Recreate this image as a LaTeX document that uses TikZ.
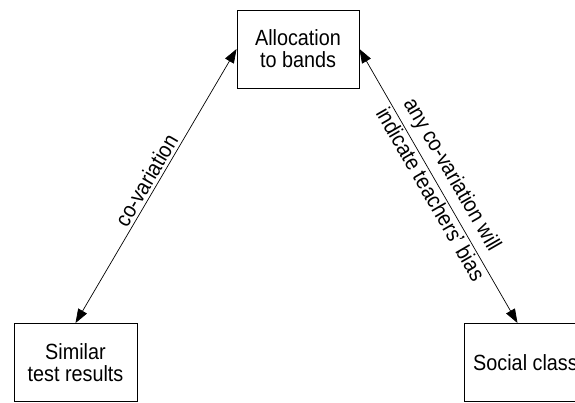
\documentclass[tikz,border=0pt]{standalone}
\usepackage{fontspec}
\setmainfont{Liberation Sans}[FakeStretch=0.9]
\usepackage{tikz}
\usetikzlibrary{arrows.meta, positioning}
\newcommand{\bandfont}{\fontsize{22}{22}\selectfont}

\begin{document}
\begin{tikzpicture}[x=1pt, y=-1pt,
    box/.style={draw, line width=0.9pt, align=center, font=\bandfont,
      minimum width=122pt, minimum height=78pt},
    link/.style={{Triangle[length=14pt,width=10pt]}-{Triangle[length=14pt,width=10pt]}, line width=0.7pt},
    lbl/.style={sloped, font=\bandfont, inner sep=3pt}]
    \path[use as bounding box, clip] (0,0) rectangle (575,403);

    % the three boxes
    \node[box] (alloc) at (298,49) {Allocation\\to bands};
    \node[box, minimum width=123pt] (similar) at (75.5,362.5) {Similar\\test results};
    \node[box, minimum width=123pt] (social) at (525.5,362.5) {Social class};

    % links
    \draw[link] (similar.north) -- (alloc.west)
        node[lbl, above, pos=0.5] (covar) {co-variation};
    \draw[link] (alloc.east) -- ([xshift=-8pt]social.north)
        node[lbl, above, pos=0.49, inner sep=6pt] (anycov) {any co-variation will}
        node[lbl, below, pos=0.51, inner sep=2pt] (bias) {indicate teachers' bias};
\end{tikzpicture}
\end{document}
